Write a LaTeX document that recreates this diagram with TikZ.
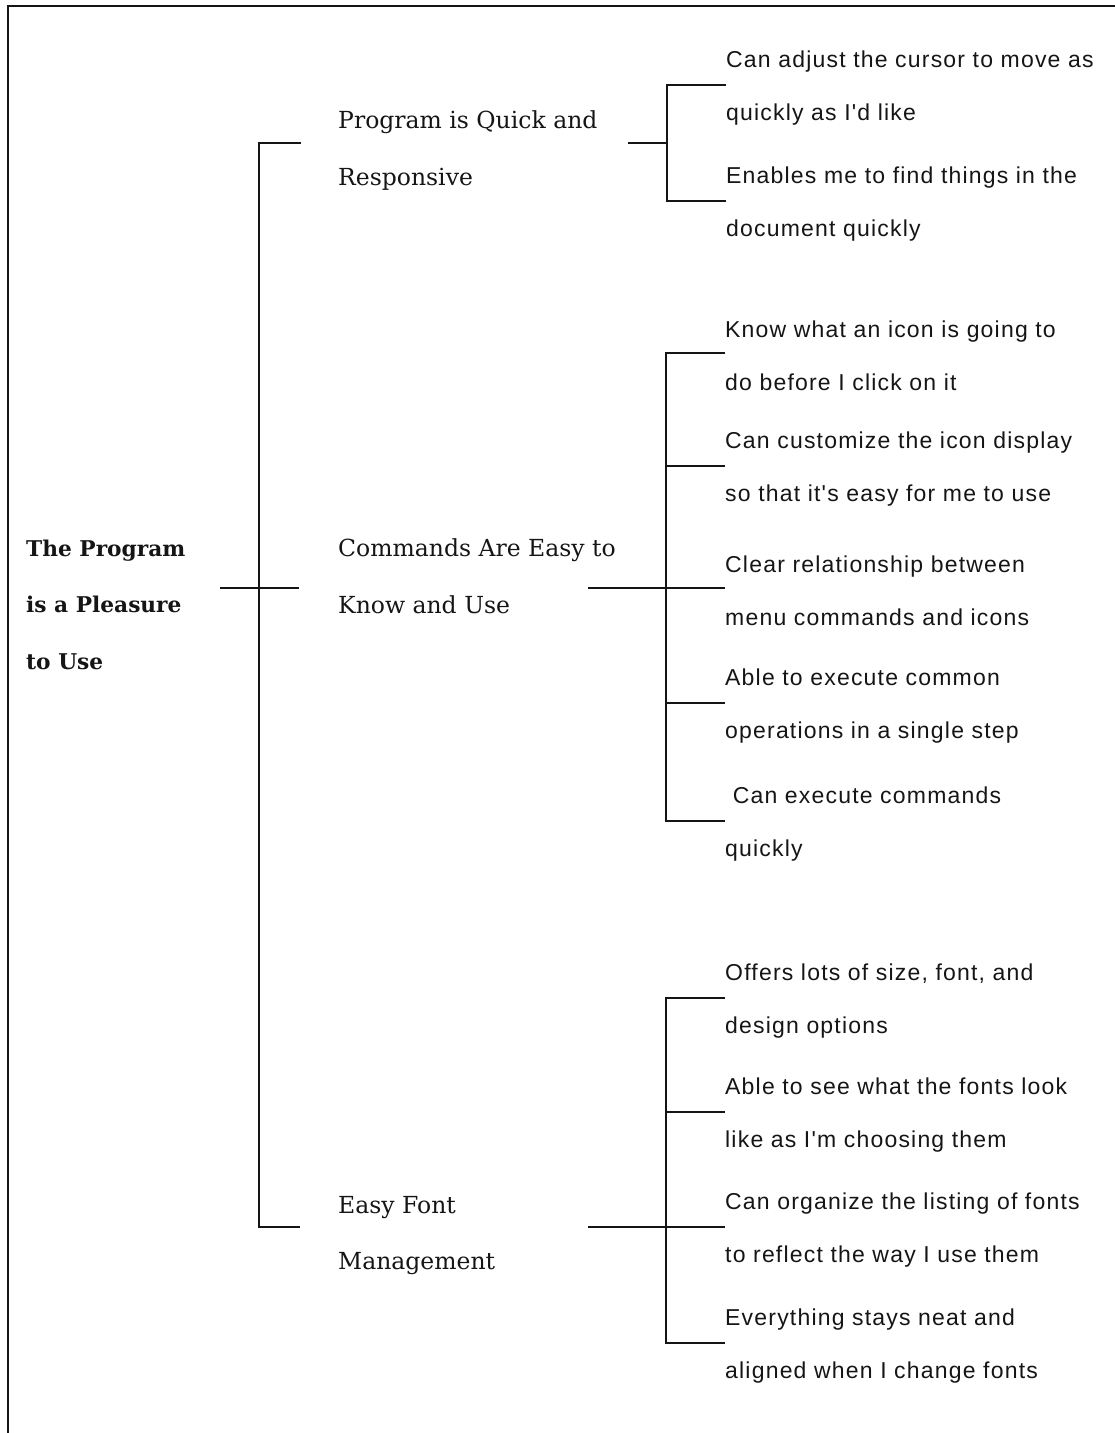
\documentclass[tikz,border=0pt]{standalone}
\usepackage{fontspec}
\setmainfont{DejaVu Serif}
\newfontfamily\itemfont{Liberation Sans}[LetterSpace=5.2]
\definecolor{ink}{HTML}{151515}
\tikzset{
  rule/.style={draw=ink, line width=2pt},
  roottext/.style={anchor=west, inner sep=0pt, align=left, text=ink,
    font=\bfseries\fontsize{21.7}{56.5}\selectfont},
  midtext/.style={anchor=west, inner sep=0pt, align=left, text=ink,
    font=\fontsize{23.5}{56.5}\selectfont},
  leaftext/.style={anchor=west, inner sep=0pt, align=left, text=ink,
    font=\itemfont\fontsize{23}{52.5}\selectfont},
}
\begin{document}
\begin{tikzpicture}[x=1pt, y=-1pt]
\useasboundingbox (0,0) rectangle (1115,1433);

% page frame (top and left edges)
\draw[rule] (8,1433) -- (8,6) -- (1115,6);

% root and second level
\node[roottext] (root) at (26,604.5) {The Program\\is a Pleasure\\to Use};
\node[midtext] (quick) at (338,150.5) {Program is Quick and\\Responsive};
\node[midtext] (cmds)  at (338,576)   {Commands Are Easy to\\Know and Use};
\node[midtext] (fonts) at (338,1235.5) {Easy Font\\Management};

% third level
\node[leaftext] (q1) at (726,88)  {Can adjust the cursor to move as\\quickly as I'd like};
\node[leaftext] (q2) at (726,204) {Enables me to find things in the\\document quickly};

\node[leaftext] (c1) at (725,356) {Know what an icon is going to\\do before I click on it};
\node[leaftext] (c2) at (725,469) {Can customize the icon display\\so that it's easy for me to use};
\node[leaftext] (c3) at (725,591) {Clear relationship between\\menu commands and icons};
\node[leaftext] (c4) at (725,706) {Able to execute common\\operations in a single step};
\node[leaftext] (c5) at (725,824) {\ Can execute commands\\quickly};

\node[leaftext] (f1) at (725,1001) {Offers lots of size, font, and\\design options};
\node[leaftext] (f2) at (725,1115) {Able to see what the fonts look\\like as I'm choosing them};
\node[leaftext] (f3) at (725,1230) {Can organize the listing of fonts\\to reflect the way I use them};
\node[leaftext] (f4) at (725,1346) {Everything stays neat and\\aligned when I change fonts};

% junction points
\coordinate (rootL) at (220,588);
\coordinate (rootR) at (299,588);
\coordinate (spTop) at (259,143);
\coordinate (spBot) at (259,1227);
\coordinate (brQ) at (301,143);
\coordinate (brF) at (300,1227);
\coordinate (sq) at (628,143);
\coordinate (jq) at (667,143);
\coordinate (sc) at (588,588);
\coordinate (jc) at (666,588);
\coordinate (sf) at (588,1227);
\coordinate (jf) at (666,1227);

% root spine
\draw[rule] (brQ) -- (spTop) -- (spBot) -- (brF);
\draw[rule] (rootL) -- (rootR);

% bracket: quick and responsive
\draw[rule] (sq) -- (jq);
\draw[rule] ([yshift=3pt]q1.west) -| (jq) |- ([yshift=3pt]q2.west);

% bracket: commands
\draw[rule] ([yshift=3pt]c1.west) -| (jc) |- ([yshift=3pt]c5.west);
\draw[rule] (sc) -- ([yshift=3pt]c3.west);
\draw[rule] ([yshift=3pt]c2.west) -- ([yshift=3pt]c2.west -| jc);
\draw[rule] ([yshift=3pt]c4.west) -- ([yshift=3pt]c4.west -| jc);

% bracket: fonts
\draw[rule] ([yshift=3pt]f1.west) -| (jf) |- ([yshift=3pt]f4.west);
\draw[rule] (sf) -- ([yshift=3pt]f3.west);
\draw[rule] ([yshift=3pt]f2.west) -- ([yshift=3pt]f2.west -| jf);
\end{tikzpicture}
\end{document}
